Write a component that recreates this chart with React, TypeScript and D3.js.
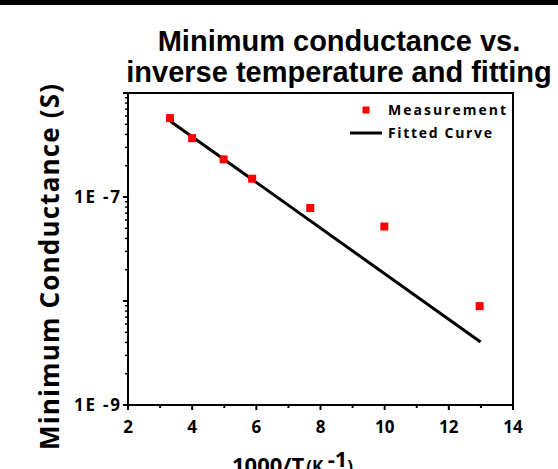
import React from "react";
import * as d3 from "d3";

const W = 558;
const H = 469;

const invT = [3.31, 4.0, 4.98, 5.87, 7.68, 9.99, 12.96];
const conductance = [5.74e-7, 3.68e-7, 2.3e-7, 1.5e-7, 7.83e-8, 5.2e-8, 8.93e-9];
const fitX = [3.33, 12.99];
const fitY = [5.33e-7, 4.03e-9];
const xTicks = [2, 4, 6, 8, 10, 12, 14];
const xMinor = [3, 5, 7, 9, 11, 13];
const yLabelTicks = [1e-9, 1e-7];
const yLabelText = ["1E -9", "1E -7"];
const titleLines = ["Minimum conductance vs.", "inverse temperature and fitting"];
const legendLabels = ["Measurement", "Fitted Curve"];

const PL = 128, PR = 513, PT = 93, PB = 405;

export default function App() {
  const x = d3.scaleLinear().domain([2, 14]).range([PL, PR]);
  const y = d3.scaleLog().domain([1e-9, 1e-6]).range([PB, PT]);

  const yMajor = [1e-9, 1e-8, 1e-7, 1e-6];
  const yMinor: number[] = [];
  [1e-9, 1e-8, 1e-7].forEach((d) => {
    for (let k = 2; k <= 9; k++) yMinor.push(d * k);
  });

  const line = d3
    .line<number>()
    .x((_, i) => x(fitX[i]))
    .y((d) => y(d));

  const lblFont = "'Open Sans', 'DejaVu Sans', sans-serif";
  const titleFont = "'Liberation Sans', Arial, sans-serif";

  return (
    <svg
      width={W}
      height={H}
      style={{ position: "absolute", left: 0, top: 0, background: "#fff" }}
    >
      <rect x={0} y={0} width={W} height={H} fill="#fff" />
      <rect x={0} y={0} width={W} height={5} fill="#000" />

      {titleLines.map((t, i) => (
        <text
          key={t}
          x={339}
          y={51 + i * 31}
          textAnchor="middle"
          fontFamily={titleFont}
          fontWeight="bold"
          fontSize={29}
          fill="#000"
        >
          {t}
        </text>
      ))}

      {/* frame */}
      <rect x={PL} y={PT} width={PR - PL} height={PB - PT} fill="none" stroke="#000" strokeWidth={2} />

      {/* y ticks */}
      {yMajor.map((v) => (
        <line key={"ym" + v} x1={PL - 5} x2={PL} y1={y(v)} y2={y(v)} stroke="#000" strokeWidth={2} />
      ))}
      {yMinor.map((v) => (
        <line key={"yn" + v} x1={PL - 3} x2={PL} y1={y(v)} y2={y(v)} stroke="#000" strokeWidth={1.5} />
      ))}
      {yLabelTicks.map((v, i) => (
        <text
          key={"yl" + v}
          x={PL - 8}
          y={y(v)}
          dy="0.36em"
          textAnchor="end"
          fontFamily={lblFont}
          fontWeight="bold"
          fontSize={17}
          textLength={46}
          lengthAdjust="spacing"
          fill="#000"
        >
          {yLabelText[i]}
        </text>
      ))}

      {/* x ticks */}
      {xTicks.map((v) => (
        <g key={"xt" + v}>
          <line x1={x(v)} x2={x(v)} y1={PB} y2={PB + 5} stroke="#000" strokeWidth={2} />
          <text
            x={x(v)}
            y={433}
            textAnchor="middle"
            fontFamily={lblFont}
            fontWeight="bold"
            fontSize={17}
            fill="#000"
          >
            {v}
          </text>
        </g>
      ))}
      {xMinor.map((v) => (
        <line key={"xn" + v} x1={x(v)} x2={x(v)} y1={PB} y2={PB + 3} stroke="#000" strokeWidth={2} />
      ))}

      {/* axis titles */}
      <text
        transform={`translate(59,${(84 + 450) / 2}) rotate(-90)`}
        textAnchor="middle"
        fontFamily={lblFont}
        fontWeight="bold"
        fontSize={26}
        textLength={366}
        lengthAdjust="spacing"
        fill="#000"
      >
        Minimum Conductance (S)
      </text>
      <text x={232} y={473} fontFamily={lblFont} fontWeight="bold" fontSize={22} fill="#000">
        1000/T
        <tspan fontSize={17} dx={2}>(K </tspan>
        <tspan fontSize={22} dy={-6}>-1</tspan>
        <tspan fontSize={17} dy={6}>)</tspan>
      </text>

      {/* fitted line */}
      <path d={line(fitY) || ""} fill="none" stroke="#000" strokeWidth={3} />

      {/* points */}
      {invT.map((v, i) => (
        <rect
          key={"p" + i}
          x={x(v) - 4}
          y={y(conductance[i]) - 4}
          width={8}
          height={8}
          fill="#ff0000"
        />
      ))}

      {/* legend */}
      <rect x={362.5} y={106.5} width={7} height={7} fill="#ff0000" />
      <text
        x={388}
        y={115}
        fontFamily={lblFont}
        fontWeight="bold"
        fontSize={14}
        textLength={118}
        lengthAdjust="spacing"
        fill="#000"
      >
        {legendLabels[0]}
      </text>
      <line x1={350} x2={382} y1={133} y2={133} stroke="#000" strokeWidth={3} />
      <text
        x={388}
        y={138}
        fontFamily={lblFont}
        fontWeight="bold"
        fontSize={14}
        textLength={104}
        lengthAdjust="spacing"
        fill="#000"
      >
        {legendLabels[1]}
      </text>
    </svg>
  );
}
